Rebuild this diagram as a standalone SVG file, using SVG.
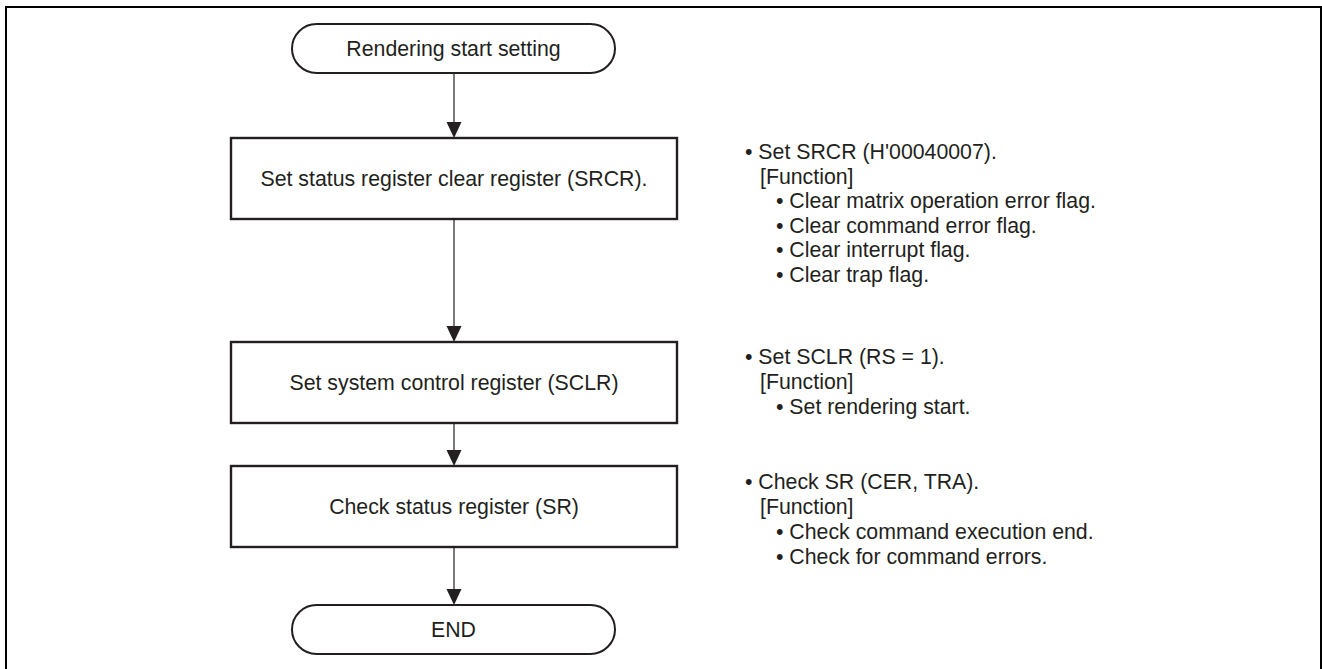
<svg xmlns="http://www.w3.org/2000/svg" width="1322" height="669" viewBox="0 0 1322 669">
  <defs>
    <style>
      .frame { fill: none; stroke: #000; stroke-width: 2; }
      .term { fill: #fff; stroke: #231f20; stroke-width: 2; }
      .proc { fill: #fff; stroke: #231f20; stroke-width: 2.4; }
      .flow { fill: none; stroke: #231f20; stroke-width: 1.2; }
      .head { fill: #231f20; stroke: none; }
      .lbl { font-family: "Liberation Sans", Arial, sans-serif; font-size: 21.3px; fill: #231f20; }
      .mid { text-anchor: middle; }
    </style>
  </defs>

  <rect id="background" x="0" y="0" width="1322" height="669" fill="#fff"/>
  <!-- outer border, bottom edge runs past the page -->
  <rect class="frame" x="6" y="7" width="1315" height="680"/>

  <!-- connectors -->
  <g id="connectors">
    <line class="flow" x1="454" y1="73" x2="454" y2="124"/>
    <polygon class="head" points="446.5,122 461.5,122 454,138"/>
    <line class="flow" x1="454" y1="219" x2="454" y2="328"/>
    <polygon class="head" points="446.5,326 461.5,326 454,342"/>
    <line class="flow" x1="454" y1="423" x2="454" y2="452"/>
    <polygon class="head" points="446.5,450 461.5,450 454,466"/>
    <line class="flow" x1="454" y1="547" x2="454" y2="591"/>
    <polygon class="head" points="446.5,589 461.5,589 454,605"/>
  </g>

  <!-- flow nodes -->
  <g id="start">
    <rect class="term" x="292" y="24" width="323" height="49" rx="24.5" ry="24.5"/>
    <text class="lbl mid" x="453.5" y="56">Rendering start setting</text>
  </g>

  <g id="set-srcr">
    <rect class="proc" x="231" y="138" width="446" height="81"/>
    <text class="lbl mid" x="454" y="186">Set status register clear register (SRCR).</text>
  </g>

  <g id="set-sclr">
    <rect class="proc" x="231" y="342" width="446" height="81"/>
    <text class="lbl mid" x="454" y="390">Set system control register (SCLR)</text>
  </g>

  <g id="check-sr">
    <rect class="proc" x="231" y="466" width="446" height="81"/>
    <text class="lbl mid" x="454" y="514">Check status register (SR)</text>
  </g>

  <g id="end">
    <rect class="term" x="292" y="605" width="323" height="49" rx="24.5" ry="24.5"/>
    <text class="lbl mid" x="453.5" y="637">END</text>
  </g>

  <!-- side notes -->
  <g id="note-srcr" class="lbl">
    <text x="745" y="159">• Set SRCR (H'00040007).</text>
    <text x="760" y="183.5">[Function]</text>
    <text x="776" y="208">• Clear matrix operation error flag.</text>
    <text x="776" y="232.5">• Clear command error flag.</text>
    <text x="776" y="257">• Clear interrupt flag.</text>
    <text x="776" y="281.5">• Clear trap flag.</text>
  </g>

  <g id="note-sclr" class="lbl">
    <text x="745" y="364">• Set SCLR (RS = 1).</text>
    <text x="760" y="389">[Function]</text>
    <text x="776" y="414">• Set rendering start.</text>
  </g>

  <g id="note-sr" class="lbl">
    <text x="745" y="489">• Check SR (CER, TRA).</text>
    <text x="760" y="514">[Function]</text>
    <text x="776" y="539">• Check command execution end.</text>
    <text x="776" y="564">• Check for command errors.</text>
  </g>
</svg>
